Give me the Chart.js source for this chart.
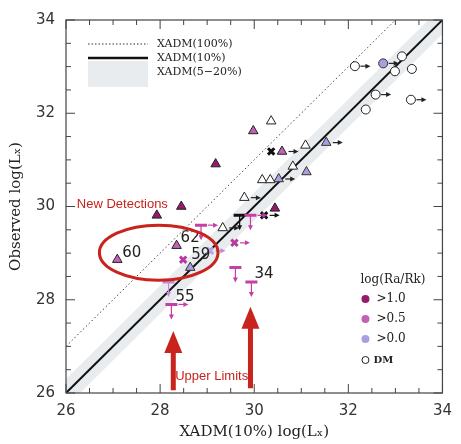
<!DOCTYPE html>
<html>
<head>
<meta charset="utf-8">
<script src="https://cdn.jsdelivr.net/npm/chart.js@4/dist/chart.umd.min.js"></script>
<style>
  html, body { margin: 0; padding: 0; background: #fff; }
</style>
</head>
<body>
<canvas id="chart" width="461" height="444"></canvas>
<script>
// Axis tick labels
const tickValues = [26, 28, 30, 32, 34];

// Model lines: XADM(100%), XADM(10%) and the XADM(5-20%) band
const modelX = [26, 34];
const model100 = [27, 35];
const model10 = [26, 34];
const model20 = [26.3, 34.3];
const model5 = [25.7, 33.7];

// DM stars (open circles); lim = lower limit arrow
const dmX = [32.14, 32.99, 33.14, 33.35, 32.58, 33.33, 32.37];
const dmY = [33.01, 32.90, 33.22, 32.95, 32.40, 32.29, 32.08];
const dmLim = [1, 0, 0, 0, 1, 1, 0];

// filled circle, log(Ra/Rk) > 0.0
const circLoX = [32.74];
const circLoY = [33.07];
const circLoLim = [1];

// open triangles
const triOpenX = [30.36, 31.09, 30.82, 30.17, 30.34, 29.79, 29.33];
const triOpenY = [31.83, 31.31, 30.86, 30.57, 30.57, 30.19, 29.54];
const triOpenLim = [0, 0, 0, 0, 0, 1, 1];

// triangles by log(Ra/Rk)
const triHiX = [29.18, 28.45, 27.93, 30.44];
const triHiY = [30.91, 30.00, 29.81, 29.96];
const triMidX = [29.98, 30.59, 28.35, 27.09];
const triMidY = [31.62, 31.18, 29.16, 28.86];
const triMidLim = [0, 1, 0, 0];
const triLoX = [31.53, 31.11, 30.52, 28.64];
const triLoY = [31.37, 30.74, 30.59, 28.69];
const triLoLim = [1, 0, 1, 0];

// crosses
const crossBlackX = [30.36, 30.21];
const crossBlackY = [31.18, 29.81];
const crossBlackLim = [0, 1];
const crossMidX = [28.49, 29.58];
const crossMidY = [28.86, 29.22];
const crossMidLim = [0, 1];
const crossLoX = [29.06];
const crossLoY = [29.05];
const crossLoLim = [1];

// upper limits
const ulMagX = [28.87, 29.92, 29.60, 29.94, 28.24];
const ulMagY = [29.60, 29.81, 28.69, 28.38, 27.90];
const ulMagLim = [1, 1, 0, 0, 1];
const ulBlackX = [29.69];
const ulBlackY = [29.81];
const ulLoX = [28.18];
const ulLoY = [28.38];

// object labels
const labelText = ['60', '62', '59', '55', '34'];
const labelX = [27.09, 28.35, 28.64, 28.24, 29.94];
const labelY = [28.86, 29.16, 28.69, 27.90, 28.38];

const cHi = '#97196c';
const cMid = '#c461b6';
const cLo = '#ab9ddf';
const cMag = '#c43fa6';
const cRed = '#c8231c';
const cBand = '#e8ecef';

function pts(xs, ys) {
  return xs.map((v, i) => ({ x: v, y: ys[i] }));
}

function marks(xs, ys, style, fill, border, extra) {
  return Object.assign({
    data: pts(xs, ys),
    pointStyle: style,
    pointRadius: 5.5,
    pointBackgroundColor: fill,
    pointBorderColor: border,
    pointBorderWidth: 1,
    showLine: false
  }, extra || {});
}

const datasets = [
  marks(dmX, dmY, 'circle', '#fff', '#222', { pointRadius: 4.5, lim: dmLim, arrowColor: '#222' }),
  marks(circLoX, circLoY, 'circle', cLo, '#333', { pointRadius: 4.5, lim: circLoLim, arrowColor: '#222' }),
  marks(triOpenX, triOpenY, 'triangle', '#fff', '#222', { lim: triOpenLim, arrowColor: '#222' }),
  marks(triHiX, triHiY, 'triangle', cHi, '#222'),
  marks(triMidX, triMidY, 'triangle', cMid, '#222', { lim: triMidLim, arrowColor: '#222' }),
  marks(triLoX, triLoY, 'triangle', cLo, '#333', { lim: triLoLim, arrowColor: '#222' }),
  marks(crossBlackX, crossBlackY, 'crossRot', '#111', '#111', { pointRadius: 4.5, pointBorderWidth: 3, lim: crossBlackLim, arrowColor: '#111' }),
  marks(crossMidX, crossMidY, 'crossRot', '#b83a9c', '#b83a9c', { pointRadius: 4.5, pointBorderWidth: 3, lim: crossMidLim, arrowColor: cMag }),
  marks(crossLoX, crossLoY, 'crossRot', '#b9a5e2', '#b9a5e2', { pointRadius: 4.5, pointBorderWidth: 3, lim: crossLoLim, arrowColor: '#c08ad8' }),
  marks(ulMagX, ulMagY, 'line', cMag, cMag, { pointRadius: 6, pointBorderWidth: 3, upper: true, lim: ulMagLim, arrowColor: cMag }),
  marks(ulBlackX, ulBlackY, 'line', '#111', '#111', { pointRadius: 6, pointBorderWidth: 3, upper: true, arrowColor: '#111' }),
  marks(ulLoX, ulLoY, 'line', '#c88ad6', '#c88ad6', { pointRadius: 6, pointBorderWidth: 3, upper: true, arrowColor: '#c88ad6' }),
  { data: pts(modelX, model10), showLine: true, borderColor: '#111', borderWidth: 2, pointRadius: 0 },
  { data: pts(modelX, model100), showLine: true, borderColor: '#444', borderWidth: 1, borderDash: [1.5, 2.5], pointRadius: 0 },
  { data: pts(modelX, model20), showLine: true, borderWidth: 0, borderColor: cBand, backgroundColor: cBand, fill: '+1', pointRadius: 0 },
  { data: pts(modelX, model5), showLine: true, borderWidth: 0, borderColor: cBand, pointRadius: 0 }
];

function redArrow(ctx, px, yTail, yTip) {
  const head = 22, hw = 9, sw = 2.5;
  ctx.beginPath();
  ctx.moveTo(px - sw, yTail);
  ctx.lineTo(px - sw, yTip + head);
  ctx.lineTo(px - hw, yTip + head);
  ctx.lineTo(px, yTip);
  ctx.lineTo(px + hw, yTip + head);
  ctx.lineTo(px + sw, yTip + head);
  ctx.lineTo(px + sw, yTail);
  ctx.closePath();
  ctx.fill();
}

const overlay = {
  id: 'overlay',
  afterDatasetsDraw(chart) {
    const ctx = chart.ctx;
    ctx.save();
    chart.data.datasets.forEach((ds, di) => {
      if (!ds.lim && !ds.upper) return;
      const meta = chart.getDatasetMeta(di);
      meta.data.forEach((pt, i) => {
        ctx.strokeStyle = ds.arrowColor;
        ctx.fillStyle = ds.arrowColor;
        ctx.lineWidth = 1.2;
        if (ds.lim && ds.lim[i]) {
          const x0 = pt.x + ds.pointRadius + 1;
          ctx.beginPath();
          ctx.moveTo(x0, pt.y);
          ctx.lineTo(x0 + 6, pt.y);
          ctx.stroke();
          ctx.beginPath();
          ctx.moveTo(x0 + 10, pt.y);
          ctx.lineTo(x0 + 5, pt.y - 2.5);
          ctx.lineTo(x0 + 5, pt.y + 2.5);
          ctx.fill();
        }
        if (ds.upper) {
          ctx.beginPath();
          ctx.moveTo(pt.x, pt.y);
          ctx.lineTo(pt.x, pt.y + 11);
          ctx.stroke();
          ctx.beginPath();
          ctx.moveTo(pt.x, pt.y + 15);
          ctx.lineTo(pt.x - 2.5, pt.y + 10);
          ctx.lineTo(pt.x + 2.5, pt.y + 10);
          ctx.fill();
        }
      });
    });
    ctx.restore();
  },
  afterDraw(chart) {
    const { ctx, chartArea: ca, scales: { x, y } } = chart;
    ctx.save();

    // object labels
    ctx.fillStyle = '#222';
    ctx.font = '15px "DejaVu Sans"';
    ctx.textBaseline = 'middle';
    ctx.textAlign = 'left';
    const offs = [[5, -7], [4, -8], [1, -12], [4, -7], [3, -8]];
    labelText.forEach((t, i) => {
      ctx.fillText(t, x.getPixelForValue(labelX[i]) + offs[i][0], y.getPixelForValue(labelY[i]) + offs[i][1]);
    });

    // frame and inward ticks
    ctx.strokeStyle = '#444';
    ctx.lineWidth = 1.2;
    ctx.strokeRect(ca.left, ca.top, ca.right - ca.left, ca.bottom - ca.top);
    ctx.lineWidth = 1;
    for (let v = 26; v <= 34.001; v += 0.5) {
      const len = v % 2 === 0 ? 9 : 5;
      const px = x.getPixelForValue(v);
      const py = y.getPixelForValue(v);
      ctx.beginPath();
      ctx.moveTo(px, ca.bottom); ctx.lineTo(px, ca.bottom - len);
      ctx.moveTo(px, ca.top); ctx.lineTo(px, ca.top + len);
      ctx.moveTo(ca.left, py); ctx.lineTo(ca.left + len, py);
      ctx.moveTo(ca.right, py); ctx.lineTo(ca.right - len, py);
      ctx.stroke();
    }

    // model legend (top left)
    const lx = ca.left + 22, ly = ca.top + 24;
    ctx.fillStyle = cBand;
    ctx.fillRect(lx, ly + 17, 60, 26);
    ctx.strokeStyle = '#333';
    ctx.setLineDash([1.5, 2]);
    ctx.beginPath(); ctx.moveTo(lx, ly); ctx.lineTo(lx + 60, ly); ctx.stroke();
    ctx.setLineDash([]);
    ctx.strokeStyle = '#111';
    ctx.lineWidth = 2.5;
    ctx.beginPath(); ctx.moveTo(lx, ly + 14); ctx.lineTo(lx + 60, ly + 14); ctx.stroke();
    ctx.fillStyle = '#222';
    ctx.font = '11px "DejaVu Serif"';
    ctx.fillText('XADM(100%)', lx + 69, ly);
    ctx.fillText('XADM(10%)', lx + 69, ly + 14);
    ctx.fillText('XADM(5\u221220%)', lx + 69, ly + 28);

    // log(Ra/Rk) legend (bottom right)
    const rx = ca.right - 82, ry = ca.bottom - 113;
    ctx.font = '12px "DejaVu Serif"';
    ctx.fillText('log(Ra/Rk)', rx, ry);
    const items = [[cHi, '>1.0', 19], [cMid, '>0.5', 39], [cLo, '>0.0', 59]];
    items.forEach(([c, t, dy]) => {
      ctx.fillStyle = c;
      ctx.beginPath(); ctx.arc(rx + 5, ry + dy, 4, 0, Math.PI * 2); ctx.fill();
      ctx.fillStyle = '#222';
      ctx.fillText(t, rx + 16, ry + dy);
    });
    ctx.strokeStyle = '#222';
    ctx.lineWidth = 1;
    ctx.beginPath(); ctx.arc(rx + 5, ry + 80, 3.5, 0, Math.PI * 2); ctx.stroke();
    ctx.font = 'bold 10px "DejaVu Serif"';
    ctx.fillText('DM', rx + 13, ry + 80);

    // red annotations
    ctx.strokeStyle = cRed;
    ctx.fillStyle = cRed;
    ctx.lineWidth = 3;
    const ex = x.getPixelForValue(27.97), ey = y.getPixelForValue(29.01);
    const erx = x.getPixelForValue(27.97 + 1.26) - ex;
    const ery = ey - y.getPixelForValue(29.01 + 0.59);
    ctx.beginPath(); ctx.ellipse(ex, ey, erx, ery, 0, 0, Math.PI * 2); ctx.stroke();
    redArrow(ctx, x.getPixelForValue(28.28), y.getPixelForValue(26.06), y.getPixelForValue(27.33));
    redArrow(ctx, x.getPixelForValue(29.92), y.getPixelForValue(26.1), y.getPixelForValue(27.85));
    ctx.font = '13px "Liberation Sans"';
    ctx.fillText('New Detections', x.getPixelForValue(26.23), y.getPixelForValue(30.04));
    ctx.fillText('Upper Limits', x.getPixelForValue(28.32), y.getPixelForValue(26.36));

    ctx.restore();
  }
};

const tickFont = { family: 'DejaVu Sans', size: 15 };
const titleFont = { family: 'DejaVu Serif', size: 15 };

new Chart(document.getElementById('chart'), {
  type: 'scatter',
  data: { datasets },
  options: {
    responsive: false,
    animation: false,
    devicePixelRatio: 1,
    layout: { padding: { top: 13, right: 13, left: 0, bottom: 0 } },
    plugins: {
      legend: { display: false },
      tooltip: { enabled: false },
      filler: { drawTime: 'beforeDatasetsDraw' }
    },
    scales: {
      x: {
        type: 'linear', min: 26, max: 34,
        afterBuildTicks: s => { s.ticks = tickValues.map(v => ({ value: v })); },
        afterFit: s => { s.height = 51; },
        grid: { display: false, drawTicks: false },
        border: { display: false },
        ticks: { padding: 9, color: '#333', font: tickFont },
        title: { display: true, text: 'XADM(10%) log(L\u2093)', color: '#222', font: titleFont, padding: { top: 0, bottom: 3 } }
      },
      y: {
        type: 'linear', min: 26, max: 34,
        afterBuildTicks: s => { s.ticks = tickValues.map(v => ({ value: v })); },
        afterFit: s => { s.width = 66; },
        grid: { display: false, drawTicks: false },
        border: { display: false },
        ticks: { padding: 11, color: '#333', font: tickFont },
        title: { display: true, text: 'Observed log(L\u2093)', color: '#222', font: titleFont, padding: { top: 7, bottom: 0 } }
      }
    }
  },
  plugins: [overlay]
});
</script>
</body>
</html>
